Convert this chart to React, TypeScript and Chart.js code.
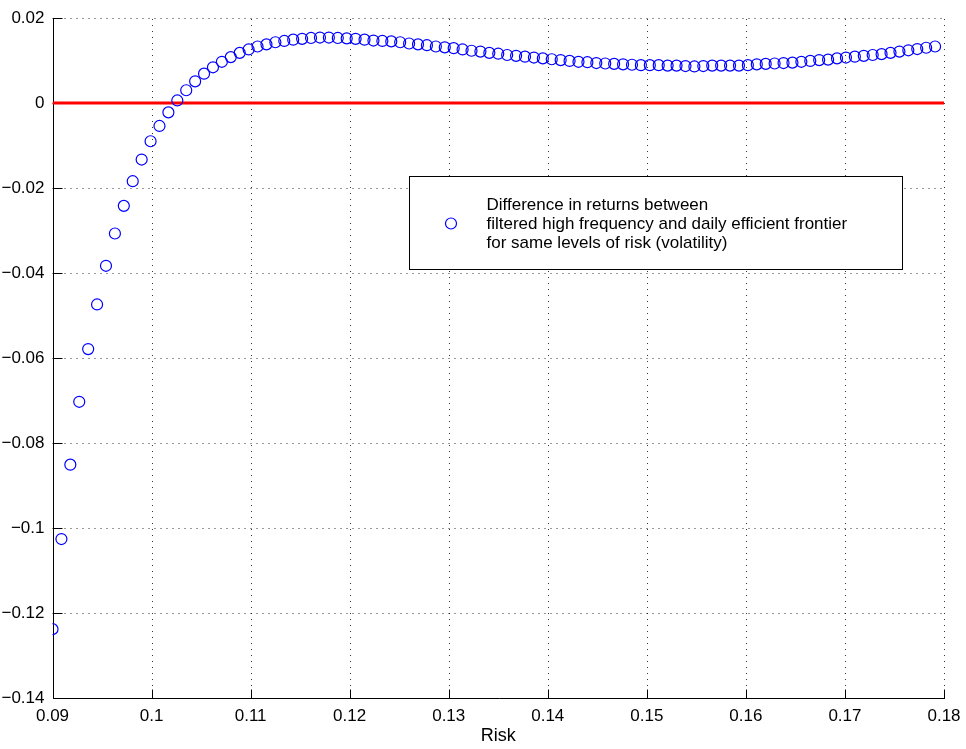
import { useEffect, useRef } from 'react';
import { Chart, registerables } from 'chart.js';

Chart.register(...registerables);

// Risk (volatility) levels at which both frontiers were compared
const riskLevels = [
  0.0900, 0.0909, 0.0918, 0.0927, 0.0936, 0.0945, 0.0954, 0.0963, 0.0972, 0.0981,
  0.0990, 0.0999, 0.1008, 0.1017, 0.1026, 0.1035, 0.1044, 0.1053, 0.1062, 0.1071,
  0.1080, 0.1089, 0.1098, 0.1107, 0.1116, 0.1125, 0.1134, 0.1143, 0.1152, 0.1161,
  0.1170, 0.1179, 0.1188, 0.1197, 0.1206, 0.1215, 0.1224, 0.1233, 0.1242, 0.1251,
  0.1260, 0.1269, 0.1278, 0.1287, 0.1296, 0.1305, 0.1314, 0.1323, 0.1332, 0.1341,
  0.1350, 0.1359, 0.1368, 0.1377, 0.1386, 0.1395, 0.1404, 0.1413, 0.1422, 0.1431,
  0.1440, 0.1449, 0.1458, 0.1467, 0.1476, 0.1485, 0.1494, 0.1503, 0.1512, 0.1521,
  0.1530, 0.1539, 0.1548, 0.1557, 0.1566, 0.1575, 0.1584, 0.1593, 0.1602, 0.1611,
  0.1620, 0.1629, 0.1638, 0.1647, 0.1656, 0.1665, 0.1674, 0.1683, 0.1692, 0.1701,
  0.1710, 0.1719, 0.1728, 0.1737, 0.1746, 0.1755, 0.1764, 0.1773, 0.1782, 0.1791,
];

// Filtered high-frequency return minus daily return at each risk level
const returnDifference = [
  -0.1238, -0.1026, -0.0851, -0.0703, -0.0579, -0.0474, -0.0383, -0.0307, -0.0242, -0.0184,
  -0.0133, -0.0090, -0.0054, -0.0022, 0.0006, 0.0030, 0.0051, 0.0069, 0.0084, 0.0097,
  0.0108, 0.0118, 0.0126, 0.0133, 0.0138, 0.0143, 0.0146, 0.0149, 0.0151, 0.0153,
  0.0154, 0.0154, 0.0153, 0.0152, 0.0151, 0.0149, 0.0147, 0.0146, 0.0145, 0.0143,
  0.0140, 0.0138, 0.0136, 0.0133, 0.0131, 0.0129, 0.0126, 0.0123, 0.0121, 0.0118,
  0.0116, 0.0113, 0.0111, 0.0109, 0.0107, 0.0105, 0.0103, 0.0101, 0.0099, 0.0097,
  0.0096, 0.0094, 0.0093, 0.0092, 0.0091, 0.0090, 0.0089, 0.0089, 0.0089, 0.0088,
  0.0088, 0.0087, 0.0086, 0.0087, 0.0088, 0.0088, 0.0088, 0.0088, 0.0089, 0.0091,
  0.0092, 0.0093, 0.0094, 0.0095, 0.0097, 0.0099, 0.0101, 0.0102, 0.0105, 0.0107,
  0.0109, 0.0111, 0.0113, 0.0115, 0.0118, 0.0121, 0.0124, 0.0127, 0.0130, 0.0133,
];

// Zero reference line
const zeroLineX = [0.09, 0.18];
const zeroLineY = [0, 0];

// Axis ticks and their labels
const xTickValues = [0.09, 0.1, 0.11, 0.12, 0.13, 0.14, 0.15, 0.16, 0.17, 0.18];
const xTickLabels = ['0.09', '0.1', '0.11', '0.12', '0.13', '0.14', '0.15', '0.16', '0.17', '0.18'];
const yTickValues = [-0.14, -0.12, -0.1, -0.08, -0.06, -0.04, -0.02, 0, 0.02];
const yTickLabels = ['\u22120.14', '\u22120.12', '\u22120.1', '\u22120.08', '\u22120.06', '\u22120.04', '\u22120.02', '0', '0.02'];

const legendLines = [
  'Difference in returns between',
  'filtered high frequency and daily efficient frontier',
  'for same levels of risk (volatility)',
];

const FONT = '"Liberation Sans", Arial, Helvetica, sans-serif';
const BLUE = 'rgb(0,0,255)';

// Dotted grid, solid left/bottom axes with inward tick marks
const axesFrame = {
  id: 'axesFrame',
  beforeDatasetsDraw(chart: any) {
    const { ctx, chartArea, scales } = chart;
    const { left, right, top, bottom } = chartArea;
    const xs = scales.x;
    const ys = scales.y;
    ctx.save();
    ctx.lineWidth = 1;
    ctx.strokeStyle = 'rgba(0,0,0,0.8)';
    ctx.setLineDash([1, 5]);
    xTickValues.forEach((v) => {
      const px = Math.round(xs.getPixelForValue(v)) + 0.5;
      if (px <= left + 2) return;
      ctx.beginPath();
      ctx.moveTo(px, bottom);
      ctx.lineTo(px, top);
      ctx.stroke();
    });
    yTickValues.forEach((v) => {
      const py = Math.round(ys.getPixelForValue(v)) + 0.5;
      if (py >= bottom - 2) return;
      ctx.beginPath();
      ctx.moveTo(left, py);
      ctx.lineTo(right, py);
      ctx.stroke();
    });
    ctx.setLineDash([]);
    ctx.strokeStyle = '#000';
    const ax = Math.round(left) + 0.5;
    const ay = Math.round(bottom) + 0.5;
    ctx.beginPath();
    ctx.moveTo(ax, Math.round(top));
    ctx.lineTo(ax, ay);
    ctx.lineTo(Math.round(right) + 1, ay);
    ctx.stroke();
    const tick = 9;
    xTickValues.forEach((v) => {
      const px = Math.round(xs.getPixelForValue(v)) + 0.5;
      ctx.beginPath();
      ctx.moveTo(px, ay);
      ctx.lineTo(px, ay - tick);
      ctx.stroke();
    });
    yTickValues.forEach((v) => {
      const py = Math.round(ys.getPixelForValue(v)) + 0.5;
      ctx.beginPath();
      ctx.moveTo(ax, py);
      ctx.lineTo(ax + tick, py);
      ctx.stroke();
    });
    ctx.restore();
  },
};

// Boxed legend with a multi-line description
const boxedLegend = {
  id: 'boxedLegend',
  afterDatasetsDraw(chart: any) {
    const { ctx, chartArea } = chart;
    const lx = Math.round(chartArea.left + 356) + 0.5;
    const ly = Math.round(chartArea.top + 158) + 0.5;
    const w = 493;
    const h = 93;
    ctx.save();
    ctx.fillStyle = '#fff';
    ctx.fillRect(lx, ly, w, h);
    ctx.strokeStyle = '#000';
    ctx.lineWidth = 1;
    ctx.strokeRect(lx, ly, w, h);
    ctx.beginPath();
    ctx.arc(lx + 41.5, ly + 47, 5.5, 0, Math.PI * 2);
    ctx.strokeStyle = BLUE;
    ctx.lineWidth = 1.2;
    ctx.stroke();
    ctx.fillStyle = '#000';
    ctx.font = `17px ${FONT}`;
    ctx.textBaseline = 'middle';
    ctx.textAlign = 'left';
    legendLines.forEach((line, i) => {
      ctx.fillText(line, lx + 77, ly + 29 + i * 19);
    });
    ctx.restore();
  },
};

export default function App() {
  const canvasRef = useRef<HTMLCanvasElement | null>(null);

  useEffect(() => {
    const canvas = canvasRef.current;
    if (!canvas) return;
    const chart = new Chart(canvas, {
      type: 'scatter',
      data: {
        datasets: [
          {
            label: legendLines.join(' '),
            data: riskLevels.map((r, i) => ({ x: r, y: returnDifference[i] })),
            pointStyle: 'circle',
            pointRadius: 5.5,
            pointBorderWidth: 1.2,
            pointBorderColor: BLUE,
            pointBackgroundColor: 'rgba(0,0,0,0)',
            showLine: false,
            order: 0,
          },
          {
            label: 'zero',
            data: zeroLineX.map((x, i) => ({ x, y: zeroLineY[i] })),
            showLine: true,
            borderColor: 'rgb(255,0,0)',
            borderWidth: 3,
            pointRadius: 0,
            order: 1,
          },
        ],
      },
      options: {
        responsive: false,
        animation: false,
        devicePixelRatio: 1,
        layout: { padding: { top: 18, right: 22, left: 0, bottom: 0 } },
        plugins: {
          legend: { display: false },
          tooltip: { enabled: false },
        },
        scales: {
          x: {
            type: 'linear',
            min: 0.09,
            max: 0.18,
            afterBuildTicks: (scale: any) => {
              scale.ticks = xTickValues.map((value) => ({ value }));
            },
            afterFit: (scale: any) => {
              scale.height = 51;
            },
            grid: { display: false },
            border: { display: false },
            ticks: {
              color: '#000',
              font: { family: FONT, size: 17 },
              padding: 0,
              maxRotation: 0,
              autoSkip: false,
              callback: (_v: any, index: number) => xTickLabels[index],
            },
            title: {
              display: true,
              text: 'Risk',
              color: '#000',
              font: { family: FONT, size: 18 },
              padding: { top: 0, bottom: 2 },
            },
          },
          y: {
            type: 'linear',
            min: -0.14,
            max: 0.02,
            afterBuildTicks: (scale: any) => {
              scale.ticks = yTickValues.map((value) => ({ value }));
            },
            afterFit: (scale: any) => {
              scale.width = 52.5;
            },
            grid: { display: false },
            border: { display: false },
            ticks: {
              color: '#000',
              font: { family: FONT, size: 17 },
              padding: 0,
              autoSkip: false,
              callback: (_v: any, index: number) => yTickLabels[index],
            },
          },
        },
      },
      plugins: [axesFrame, boxedLegend],
    } as any);
    return () => chart.destroy();
  }, []);

  return (
    <div style={{ position: 'fixed', left: 0, top: 0, width: 966, height: 749, background: '#fff' }}>
      <canvas ref={canvasRef} width={966} height={749} style={{ display: 'block' }} />
    </div>
  );
}
